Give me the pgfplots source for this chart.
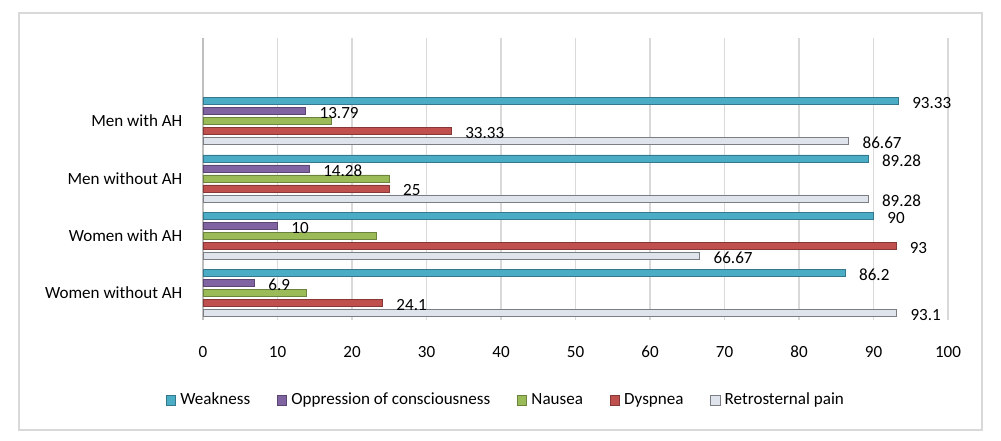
\documentclass[border=0pt]{standalone}
\usepackage{fontspec}
\setmainfont{Carlito}
\usepackage{pgfplots}
\pgfplotsset{compat=1.18}

\definecolor{cWeak}{RGB}{75,172,198}
\definecolor{cOpp}{RGB}{128,100,162}
\definecolor{cNau}{RGB}{155,187,89}
\definecolor{cDys}{RGB}{192,80,77}
\definecolor{cRet}{RGB}{222,227,236}
\definecolor{gridgray}{RGB}{217,217,217}
\definecolor{axgray}{RGB}{190,190,190}

% 1 px of the reference = 0.75pt
\begin{document}
\fontsize{12.8}{15}\selectfont
\begin{tikzpicture}
\useasboundingbox (0,0) rectangle (750.75pt,-330pt);
\draw[gridgray, line width=1.2pt] (14.25pt,-9.75pt) rectangle (736.5pt,-322.5pt);
\begin{axis}[
    at={(152.25pt,-28.5pt)}, anchor=north west,
    scale only axis, width=558.75pt, height=211.5pt,
    xbar, bar width=5.25pt,
    xmin=0, xmax=100, ymin=-0.47, ymax=4.45,
    xtick={0,10,...,100},
    ytick={0,1,2,3},
    yticklabels={Women without AH, Women with AH, Men without AH, Men with AH},
    axis x line*=bottom, axis y line*=left,
    x axis line style={draw=none},
    y axis line style={draw=axgray, line width=1.5pt},
    major tick length=0pt,
    xmajorgrids, grid style={draw=gridgray, line width=0.8pt},
    /pgf/number format/assume math mode=true,
    tick label style={font=\fontsize{12.8}{15}\selectfont},
    xticklabel style={yshift=-15pt},
    yticklabel style={xshift=-11pt},
    point meta=x,
    every node near coord/.append style={anchor=west, xshift=6pt, yshift=-1.5pt,
        black, font=\fontsize{12.8}{15}\selectfont},
    legend columns=5,
    legend style={at={(0.407,-0.284)}, anchor=center, draw=none, fill=none,
        font=\fontsize{12.8}{15}\selectfont,
        /tikz/every odd column/.append style={column sep=1.5pt},
        /tikz/every even column/.append style={column sep=18pt}},
    legend image code/.code={\filldraw[#1] (0pt,-3.5pt) rectangle (7pt,3.5pt);},
]
\addplot[fill=cWeak, draw=cWeak!70!black, line width=0.4pt, bar shift=15pt, nodes near coords]
    coordinates {(86.2,0) (90,1) (89.28,2) (93.33,3)};
\addplot[fill=cOpp, draw=cOpp!70!black, line width=0.4pt, bar shift=7.5pt, nodes near coords]
    coordinates {(6.9,0) (10,1) (14.28,2) (13.79,3)};
\addplot[fill=cNau, draw=cNau!70!black, line width=0.4pt, bar shift=0pt]
    coordinates {(13.8,0) (23.3,1) (25,2) (17.24,3)};
\addplot[fill=cDys, draw=cDys!70!black, line width=0.4pt, bar shift=-7.5pt, nodes near coords]
    coordinates {(24.1,0) (93,1) (25,2) (33.33,3)};
\addplot[fill=cRet, draw=cRet!55!black, line width=0.4pt, bar shift=-15pt, nodes near coords]
    coordinates {(93.1,0) (66.67,1) (89.28,2) (86.67,3)};
\legend{Weakness, Oppression of consciousness, Nausea, Dyspnea, Retrosternal pain}
\end{axis}
\end{tikzpicture}
\end{document}
